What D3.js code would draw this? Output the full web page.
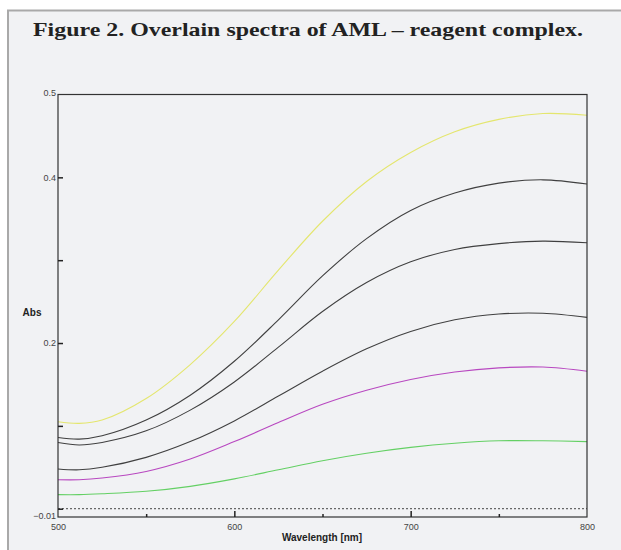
<!DOCTYPE html>
<html>
<head>
<meta charset="utf-8">
<script src="https://cdn.jsdelivr.net/npm/d3@7"></script>
<style>
  body { margin: 0; background: #fff; }
  svg { display: block; }
  .tick text { font-family: "Liberation Sans Narrow", "Arial Narrow", sans-serif; font-size: 9px; fill: #444; }
</style>
</head>
<body>
<div id="chart"></div>
<script>
// Wavelengths (nm) read at each point of the spectra
let wavelengths = [500, 512, 525, 550, 575, 600, 625, 650, 675, 700, 725, 750, 775, 800];

// Absorbance of each overlain spectrum, top to bottom
let absYellow  = [0.105, 0.103, 0.107, 0.133, 0.174, 0.226, 0.288, 0.347, 0.395, 0.430, 0.455, 0.470, 0.477, 0.475];
let absBlack1  = [0.086, 0.084, 0.088, 0.107, 0.137, 0.178, 0.228, 0.281, 0.326, 0.360, 0.381, 0.393, 0.397, 0.392];
let absBlack2  = [0.080, 0.077, 0.080, 0.094, 0.119, 0.153, 0.195, 0.238, 0.273, 0.298, 0.313, 0.320, 0.323, 0.321];
let absBlack3  = [0.048, 0.047, 0.050, 0.062, 0.081, 0.106, 0.136, 0.166, 0.193, 0.214, 0.228, 0.235, 0.236, 0.231];
let absMagenta = [0.035, 0.035, 0.037, 0.045, 0.060, 0.081, 0.104, 0.126, 0.143, 0.156, 0.165, 0.170, 0.171, 0.166];
let absGreen   = [0.017, 0.017, 0.018, 0.021, 0.027, 0.036, 0.047, 0.058, 0.067, 0.074, 0.079, 0.082, 0.082, 0.081];

let seriesList = [absYellow, absBlack1, absBlack2, absBlack3, absMagenta, absGreen];
let seriesColors = ["#e4e66e", "#404040", "#404040", "#404040", "#b848c0", "#64d064"];

// Axis ticks
let xTicks = [500, 550, 600, 650, 700, 750, 800];
let xLabels = [500, 600, 700, 800];
let yTicks = [-0.01, 0, 0.1, 0.2, 0.3, 0.4, 0.5];
let yLabels = [-0.01, 0.2, 0.4, 0.5];

let W = 621, H = 550;
let plot = {left: 58, right: 587, top: 94.5, bottom: 517};

let svg = d3.select("#chart").append("svg")
    .attr("width", W)
    .attr("height", H);

// Panel background and frame lines (top and left only)
svg.append("rect")
    .attr("x", 8).attr("y", 10.5)
    .attr("width", W).attr("height", H)
    .attr("fill", "#f1f2f4");
svg.append("path")
    .attr("d", `M8,${H} L8,10.5 L${W},10.5`)
    .attr("fill", "none")
    .attr("stroke", "#a9a9a9")
    .attr("stroke-width", 2);

// Title
svg.append("text")
    .attr("x", 33)
    .attr("y", 36)
    .attr("font-family", "'Liberation Serif', 'DejaVu Serif', serif")
    .attr("font-weight", "bold")
    .attr("font-size", 19)
    .attr("fill", "#222")
    .attr("textLength", 550)
    .attr("lengthAdjust", "spacingAndGlyphs")
    .text("Figure 2. Overlain spectra of AML – reagent complex.");

// Scales
let x = d3.scaleLinear().domain([500, 800]).range([plot.left, plot.right]);
let y = d3.scaleLinear().domain([-0.01, 0.5]).range([plot.bottom, plot.top]);

// Dotted zero line
svg.append("line")
    .attr("x1", plot.left).attr("x2", plot.right)
    .attr("y1", y(0)).attr("y2", y(0))
    .attr("stroke", "#444")
    .attr("stroke-width", 1)
    .attr("stroke-dasharray", "2,2");

// Spectra
let line = d3.line()
    .x((d, i) => x(wavelengths[i]))
    .y(d => y(d))
    .curve(d3.curveCatmullRom);

svg.append("g").selectAll(".spectrum")
    .data(seriesList)
    .enter().append("path")
    .attr("class", "spectrum")
    .attr("d", line)
    .attr("fill", "none")
    .attr("stroke", (d, i) => seriesColors[i])
    .attr("stroke-width", 1.1);

// Plot border
svg.append("rect")
    .attr("x", plot.left).attr("y", plot.top)
    .attr("width", plot.right - plot.left)
    .attr("height", plot.bottom - plot.top)
    .attr("fill", "none")
    .attr("stroke", "#333")
    .attr("stroke-width", 1.2);

// Y axis (ticks point inward)
let yAxis = svg.append("g")
    .attr("transform", `translate(${plot.left},0)`)
    .call(d3.axisLeft(y)
        .tickValues(yTicks)
        .tickSize(-5)
        .tickPadding(2)
        .tickFormat(d => yLabels.includes(d) ? d3.format("")(d) : ""));
yAxis.select(".domain").remove();
yAxis.selectAll(".tick line")
    .attr("stroke", "#222")
    .attr("stroke-width", 1.5)
    .attr("display", d => (d === -0.01 || d === 0.5) ? "none" : null);
yAxis.selectAll(".tick text")
    .attr("x", -2)
    .attr("dy", d => d === 0.5 ? "0.1em" : (d === -0.01 ? "0.2em" : "0.32em"));

// X axis (ticks point inward)
let xAxis = svg.append("g")
    .attr("transform", `translate(0,${plot.bottom})`)
    .call(d3.axisBottom(x)
        .tickValues(xTicks)
        .tickSize(-5)
        .tickPadding(4)
        .tickFormat(d => xLabels.includes(d) ? d : ""));
xAxis.select(".domain").remove();
xAxis.selectAll(".tick line")
    .attr("stroke", "#222")
    .attr("stroke-width", 1.5)
    .attr("y2", d => xLabels.includes(d) ? -6 : -3)
    .attr("display", d => (d === 500 || d === 800) ? "none" : null);
xAxis.selectAll(".tick text")
    .attr("y", 7);

// Axis titles
svg.append("text")
    .attr("x", 32)
    .attr("y", 316)
    .attr("text-anchor", "middle")
    .attr("font-family", "'Liberation Sans Narrow', 'Arial Narrow', sans-serif")
    .attr("font-weight", "bold")
    .attr("font-size", 10)
    .attr("fill", "#222")
    .text("Abs");

svg.append("text")
    .attr("x", 322)
    .attr("y", 541)
    .attr("text-anchor", "middle")
    .attr("font-family", "'Liberation Sans Narrow', 'Arial Narrow', sans-serif")
    .attr("font-weight", "bold")
    .attr("font-size", 10)
    .attr("fill", "#222")
    .text("Wavelength [nm]");
</script>
</body>
</html>
